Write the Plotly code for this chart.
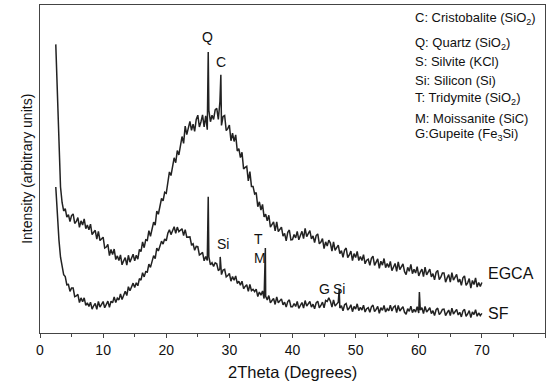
import numpy as np
import plotly.graph_objects as go

# 2-theta scan grid (degrees)
theta_start, theta_stop, theta_step = 2.5, 70.0, 0.25

# Background traces (arbitrary intensity units), one value per grid step
egca_counts = [
    88.0, 71.5,
    55.0, 44.5, 39.8, 37.2,
    37.9, 35.3, 36.1, 34.0,
    35.8, 36.3, 33.4, 34.0,
    35.2, 32.2, 34.2, 32.9,
    34.8, 31.8, 32.9, 31.5,
    33.2, 30.0, 30.7, 31.3,
    28.6, 31.0, 28.2, 28.6,
    29.2, 25.9, 26.2, 27.0,
    23.6, 25.5, 23.9, 25.6,
    22.4, 23.5, 22.1, 23.8,
    20.8, 22.0, 23.0, 20.7,
    23.7, 21.6, 22.8, 24.0,
    22.0, 23.7, 22.5, 25.5,
    24.8, 27.8, 26.0, 28.4,
    28.2, 31.2, 29.5, 31.7,
    33.8, 32.9, 37.2, 36.2,
    38.5, 41.0, 40.3, 42.9,
    42.6, 46.7, 49.1, 48.0,
    50.6, 53.4, 51.9, 55.6,
    54.3, 57.2, 59.9, 57.8,
    63.1, 60.5, 62.5, 64.5,
    61.8, 63.7, 61.5, 65.1,
    66.4, 62.8, 64.4, 66.5,
    62.8, 66.2, 62.0, 67.9,
    64.4, 66.4, 65.1, 68.0,
    68.5, 65.1, 70.5, 63.3,
    66.0, 66.3, 61.7, 62.3,
    63.4, 58.6, 60.9, 58.4,
    60.4, 55.5, 56.2, 53.5,
    55.1, 50.0, 50.5, 50.8,
    46.4, 49.2, 44.7, 44.7,
    42.4, 42.8, 38.5, 40.0,
    37.5, 39.2, 35.4, 36.2,
    34.2, 35.9, 32.3, 33.3,
    33.9, 31.1, 33.9, 30.9,
    31.5, 32.3, 29.5, 30.4,
    28.1, 30.7, 31.4, 28.4,
    28.5, 30.0, 29.0, 31.0,
    28.4, 29.8, 31.0, 28.8,
    31.9, 29.4, 30.3, 31.2,
    28.7, 29.6, 27.6, 29.7,
    30.2, 27.2, 27.7, 28.8,
    25.7, 27.8, 26.5, 28.3,
    27.4, 25.0, 27.8, 25.2,
    26.0, 26.8, 24.2, 25.1,
    23.1, 25.3, 25.9, 23.0,
    23.8, 25.0, 22.1, 24.2,
    23.0, 24.9, 22.1, 23.3,
    22.1, 23.9, 21.1, 22.2,
    22.5, 20.6, 22.8, 23.4,
    20.6, 21.4, 22.6, 19.7,
    21.9, 20.7, 22.7, 19.9,
    21.2, 20.0, 21.8, 19.0,
    20.2, 21.2, 18.8, 21.7,
    19.3, 20.2, 21.1, 18.7,
    17.8, 20.0, 18.8, 20.9,
    18.1, 19.4, 18.3, 20.2,
    17.4, 18.6, 19.5, 17.2,
    20.1, 17.7, 18.6, 19.5,
    17.1, 18.1, 16.2, 18.5,
    19.1, 16.3, 17.0, 18.3,
    18.3, 15.5, 16.8, 17.8,
    15.5, 18.4, 16.1, 17.0,
    17.9, 15.5, 16.4, 14.5,
    16.8, 17.4, 14.5, 15.3,
    16.6, 13.7, 16.0, 14.8,
    16.8, 14.0, 15.4, 14.2,
    15.4,
]

sf_counts = [
    44.5, 35.5,
    28.4, 23.1, 20.0, 17.8,
    17.2, 14.7, 14.8, 12.7,
    13.7, 13.7, 11.1, 11.3,
    11.8, 9.3, 10.7, 9.5,
    10.7, 8.4, 9.2, 8.1,
    9.4, 7.3, 8.3, 9.0,
    7.2, 9.6, 7.9, 8.7,
    9.6, 7.7, 8.6, 9.7,
    7.8, 9.7, 9.2, 11.0,
    9.3, 10.6, 10.1, 11.9,
    10.2, 11.6, 12.7, 11.4,
    14.1, 12.9, 14.0, 15.2,
    13.9, 15.3, 14.4, 16.6,
    16.1, 18.4, 17.1, 18.7,
    18.6, 21.0, 20.0, 21.9,
    23.6, 22.7, 25.9, 25.0,
    26.5, 28.0, 27.1, 28.7,
    28.1, 30.4, 31.5, 30.0,
    31.2, 32.4, 30.4, 32.3,
    30.9, 31.5, 31.8, 29.7,
    31.5, 29.2, 29.2, 29.3,
    26.9, 27.2, 25.2, 26.4,
    26.3, 23.8, 24.1, 24.6,
    22.0, 23.3, 22.1, 23.2,
    20.8, 21.4, 20.3, 21.4,
    21.1, 19.0, 19.6, 17.8,
    19.2, 19.4, 17.1, 17.5,
    18.2, 15.8, 17.2, 16.1,
    17.4, 15.1, 15.8, 14.6,
    15.8, 13.5, 14.2, 14.7,
    12.7, 14.8, 12.9, 13.3,
    12.6, 13.4, 11.1, 12.5,
    11.5, 12.8, 10.5, 11.2,
    10.1, 11.4, 9.2, 9.9,
    10.5, 8.7, 11.0, 9.2,
    9.8, 10.4, 8.6, 9.4,
    7.9, 9.6, 10.1, 8.0,
    8.0, 9.0, 8.1, 9.6,
    7.5, 8.5, 9.3, 7.6,
    9.9, 8.2, 8.9, 9.6,
    7.9, 8.8, 7.4, 9.2,
    9.7, 7.7, 8.4, 9.4,
    7.7, 9.9, 9.6, 10.7,
    9.7, 7.9, 10.1, 8.2,
    8.8, 9.4, 7.6, 8.3,
    6.8, 8.6, 9.0, 7.0,
    7.6, 8.6, 6.5, 8.1,
    7.3, 8.9, 6.8, 7.8,
    7.0, 8.5, 6.4, 7.4,
    7.7, 6.3, 8.0, 8.5,
    6.5, 7.2, 8.1, 6.0,
    7.7, 6.9, 8.4, 6.4,
    7.4, 6.8, 8.5, 6.7,
    7.9, 8.3, 6.2, 8.4,
    6.7, 7.4, 8.0, 6.3,
    5.7, 7.4, 6.6, 8.2,
    6.2, 7.2, 6.4, 8.0,
    6.1, 7.0, 7.7, 5.9,
    8.1, 6.4, 7.0, 7.7,
    5.9, 6.8, 5.3, 7.1,
    7.6, 5.6, 6.2, 7.2,
    7.3, 5.3, 6.2, 7.0,
    5.3, 7.6, 5.8, 6.5,
    7.2, 5.5, 6.3, 4.9,
    6.7, 7.2, 5.1, 5.8,
    6.8, 4.7, 6.4, 5.6,
    7.1, 5.1, 6.1, 5.3,
    6.0,
]

# Sharp reflections: position (2theta) and peak top intensity
egca_peak_pos = [26.65, 28.65]
egca_peak_top = [85.7, 78.7]
sf_peak_pos = [26.65, 28.55, 35.7, 47.4, 60.1]
sf_peak_top = [41.5, 23.2, 25.9, 13.4, 12.5]

# Phase labels above the reflections
phase_labels = ["Q", "C", "Si", "T", "M", "G", "Si"]
phase_label_x = [26.5, 28.7, 29.0, 34.6, 34.9, 45.0, 47.4]
phase_label_y = [90.2, 82.6, 27.1, 28.7, 22.9, 13.4, 13.4]

# Sample names at the end of each trace
sample_names = ["EGCA", "SF"]
sample_name_x = [74.6, 72.6]
sample_name_y = [18.0, 5.8]

# Phase key
phase_key = [
    "C: Cristobalite (SiO<sub>2</sub>)",
    "Q: Quartz (SiO<sub>2</sub>)",
    "S: Silvite (KCl)",
    "Si: Silicon (Si)",
    "T: Tridymite (SiO<sub>2</sub>)",
    "M: Moissanite (SiC)",
    "G:Gupeite (Fe<sub>3</sub>Si)",
]
phase_key_y = [96.0, 88.4, 82.9, 77.1, 71.6, 65.5, 60.4]

two_theta = np.round(np.arange(theta_start, theta_stop + theta_step / 2, theta_step), 3)


def with_peaks(counts, pos, top):
    x = np.concatenate([two_theta, np.array(pos)])
    y = np.concatenate([np.array(counts), np.array(top)])
    order = np.argsort(x, kind="stable")
    return x[order], y[order]


fig = go.Figure()
for counts, pos, top in [(egca_counts, egca_peak_pos, egca_peak_top),
                         (sf_counts, sf_peak_pos, sf_peak_top)]:
    x, y = with_peaks(counts, pos, top)
    fig.add_trace(go.Scatter(x=x, y=y, mode="lines",
                             line=dict(color="#222222", width=1.5),
                             showlegend=False, hoverinfo="skip"))

font_family = "Liberation Sans, Arial, sans-serif"
annotations = []
for t, x, y in zip(phase_labels, phase_label_x, phase_label_y):
    annotations.append(dict(x=x, y=y, xref="x", yref="y", text=t, showarrow=False,
                            font=dict(size=14, color="#111"), xanchor="center", yanchor="middle"))
for t, x, y in zip(sample_names, sample_name_x, sample_name_y):
    annotations.append(dict(x=x, y=y, xref="x", yref="y", text=t, showarrow=False,
                            font=dict(size=16, color="#111"), xanchor="center", yanchor="middle"))
for t, y in zip(phase_key, phase_key_y):
    annotations.append(dict(x=59.1, y=y, xref="x", yref="y", text=t, showarrow=False,
                            font=dict(size=13, color="#111"), xanchor="left", yanchor="middle"))
annotations.append(dict(x=0.5, y=-0.119, xref="paper", yref="paper", text="2Theta (Degrees)",
                        showarrow=False, font=dict(size=16.5, color="#111"),
                        xanchor="center", yanchor="middle"))
annotations.append(dict(x=-0.026, y=0.5, xref="paper", yref="paper",
                        text="Intensity (arbitrary units)", textangle=-90,
                        showarrow=False, font=dict(size=14, color="#111"),
                        xanchor="center", yanchor="middle"))

fig.update_layout(
    width=551, height=385,
    margin=dict(l=40, r=6, t=5, b=52),
    paper_bgcolor="white", plot_bgcolor="white",
    font=dict(family=font_family, color="#111"),
    annotations=annotations,
    xaxis=dict(range=[0, 80], dtick=10, tick0=0, showgrid=False, zeroline=False,
               showline=True, linecolor="#444", linewidth=1, mirror=True,
               ticks="outside", ticklen=4, tickwidth=1, tickcolor="#444",
               tickfont=dict(size=14, color="#111"),
               minor=dict(dtick=5, ticks="outside", ticklen=3, tickcolor="#444", showgrid=False)),
    yaxis=dict(range=[0, 100], showgrid=False, zeroline=False, showticklabels=False,
               showline=True, linecolor="#444", linewidth=1, mirror=True, ticks=""),
)

fig.write_html("out.html")
